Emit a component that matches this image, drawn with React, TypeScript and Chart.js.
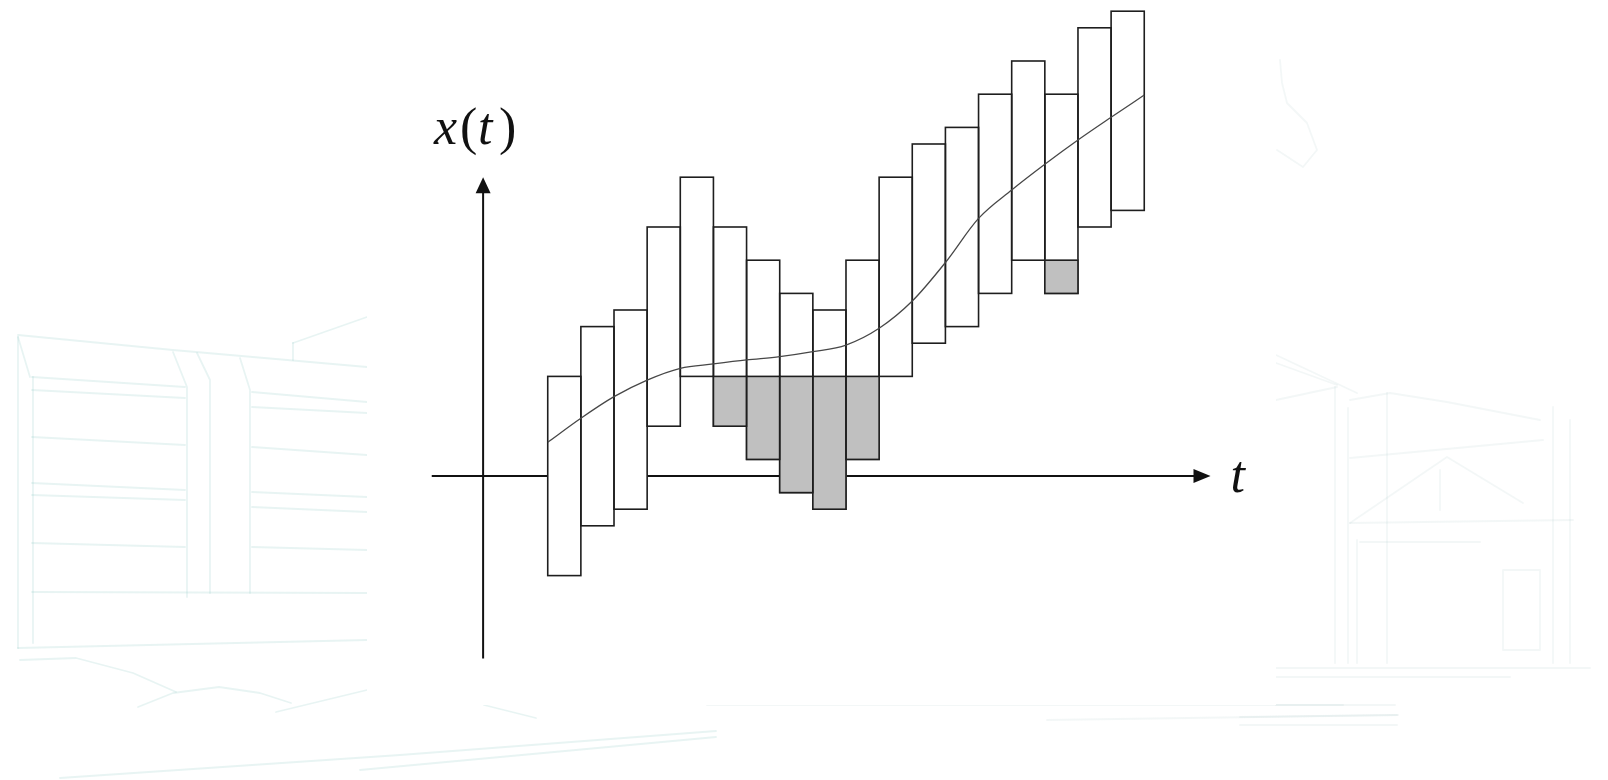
import { useEffect, useRef } from "react";
import { Chart, registerables } from "chart.js";

Chart.register(...registerables);

// Sample index t for each interval (one bar per step).
const steps = [1, 2, 3, 4, 5, 6, 7, 8, 9, 10, 11, 12, 13, 14, 15, 16, 17, 18];

// Interval bounds [lower, upper] of x(t) at each step.
const lowerBound = [-6, -3, -2, 3, 6, 3, 1, -1, -2, 1, 6, 8, 9, 11, 13, 11, 15, 16];
const upperBound = [6, 9, 10, 15, 18, 15, 13, 11, 10, 13, 18, 20, 21, 23, 25, 23, 27, 28];

// Part of an interval lying below the bound already reached (shaded grey).
const shadedLower = [null, null, null, null, null, 3, 1, -1, -2, 1, null, null, null, null, null, 11, null, null];
const shadedUpper = [null, null, null, null, null, 6, 6, 6, 6, 6, null, null, null, null, null, 13, null, null];

// The underlying signal x(t), sampled at the interval edges.
const curveT = [0.5, 1.5, 2.5, 3.5, 4.5, 5.5, 6.5, 7.5, 8.5, 9.5, 10.5, 11.5, 12.5, 13.5, 14.5, 15.5, 16.5, 17.5, 18.5];
const curveX = [2.03, 3.48, 4.78, 5.78, 6.49, 6.75, 6.99, 7.19, 7.49, 7.89, 8.9, 10.54, 12.86, 15.52, 17.23, 18.78, 20.24, 21.61, 22.95];

// Axis extents in data units.
const T_RANGE = [-4, 21];
const X_RANGE = [-12, 28.5];
const T_AXIS = { from: -3, to: 20.5, at: 0 };
const X_AXIS = { from: -11, to: 18, at: -1.45 };

const W = 1608;
const H = 780;

// Faint backdrop sketch (decoration around the white panel), canvas pixels.
const PANEL = { left: 367, top: 0, right: 1276, bottom: 705 };
const sketchLeft: number[][] = [
  [18, 337, 18, 648],
  [33, 377, 33, 643],
  [18, 335, 173, 350, 367, 367],
  [18, 337, 30, 377],
  [293, 343, 367, 317],
  [293, 343, 293, 360],
  [32, 377, 185, 387],
  [32, 390, 185, 398],
  [32, 437, 185, 445],
  [32, 483, 185, 490],
  [32, 495, 185, 500],
  [32, 543, 185, 547],
  [32, 592, 367, 593],
  [252, 392, 367, 402],
  [252, 407, 367, 413],
  [252, 447, 367, 455],
  [252, 492, 367, 497],
  [252, 507, 367, 512],
  [252, 547, 367, 550],
  [173, 352, 187, 387, 187, 597],
  [197, 353, 210, 380, 210, 593],
  [240, 358, 250, 390, 250, 593],
  [18, 648, 367, 640],
  [20, 660, 76, 658, 133, 673, 176, 692],
  [138, 707, 173, 693, 219, 687, 260, 693, 291, 703],
  [276, 712, 367, 690],
  [60, 778, 400, 755, 716, 731],
  [360, 770, 716, 737],
  [484, 705, 536, 718],
];
const sketchRight: number[][] = [
  [707, 705, 1395, 705],
  [1047, 720, 1398, 715],
  [1280, 60, 1282, 83, 1287, 103, 1307, 123, 1317, 150, 1303, 167, 1277, 150],
  [1276, 355, 1357, 393],
  [1276, 363, 1337, 385],
  [1276, 400, 1337, 387],
  [1350, 400, 1390, 393, 1447, 402, 1540, 420],
  [1335, 387, 1335, 663],
  [1348, 408, 1348, 663],
  [1357, 540, 1357, 663],
  [1387, 393, 1387, 663],
  [1553, 407, 1553, 663],
  [1570, 420, 1570, 663],
  [1440, 470, 1440, 510],
  [1350, 458, 1543, 440],
  [1350, 523, 1573, 520],
  [1360, 542, 1480, 542],
  [1350, 523, 1447, 457, 1523, 503],
  [1503, 570, 1540, 570, 1540, 650, 1503, 650, 1503, 570],
  [1276, 668, 1590, 668],
  [1276, 677, 1510, 677],
  [1276, 705, 1343, 705],
  [1240, 717, 1397, 715],
  [1240, 725, 1397, 725],
];

function strokePolylines(ctx: CanvasRenderingContext2D, lines: number[][]) {
  for (const pts of lines) {
    ctx.beginPath();
    ctx.moveTo(pts[0], pts[1]);
    for (let i = 2; i < pts.length; i += 2) ctx.lineTo(pts[i], pts[i + 1]);
    ctx.stroke();
  }
}

const backdropPlugin = {
  id: "backdrop",
  beforeDraw(chart: any) {
    const ctx = chart.ctx as CanvasRenderingContext2D;
    ctx.save();
    ctx.fillStyle = "#ffffff";
    ctx.fillRect(0, 0, W, H);
    ctx.beginPath();
    ctx.rect(0, 0, W, H);
    ctx.rect(PANEL.left, PANEL.top, PANEL.right - PANEL.left, PANEL.bottom - PANEL.top);
    ctx.clip("evenodd");
    ctx.lineJoin = "round";
    ctx.lineCap = "round";
    ctx.lineWidth = 1.8;
    ctx.strokeStyle = "rgba(140, 200, 196, 0.2)";
    strokePolylines(ctx, sketchLeft);
    ctx.strokeStyle = "rgba(160, 195, 195, 0.13)";
    strokePolylines(ctx, sketchRight);
    ctx.restore();
  },
};

// Axes with arrowheads, crossing at the origin, plus the axis names.
const axesPlugin = {
  id: "arrowAxes",
  beforeDatasetsDraw(chart: any) {
    const ctx = chart.ctx as CanvasRenderingContext2D;
    const xs = chart.scales.x;
    const ys = chart.scales.y;
    ctx.save();
    ctx.strokeStyle = "#111";
    ctx.fillStyle = "#111";
    ctx.lineWidth = 2;

    // horizontal (t) axis
    const ty = ys.getPixelForValue(T_AXIS.at);
    const tx0 = xs.getPixelForValue(T_AXIS.from);
    const tx1 = xs.getPixelForValue(T_AXIS.to);
    ctx.beginPath();
    ctx.moveTo(tx0, ty);
    ctx.lineTo(tx1 - 14, ty);
    ctx.stroke();
    ctx.beginPath();
    ctx.moveTo(tx1, ty);
    ctx.lineTo(tx1 - 17, ty - 7);
    ctx.lineTo(tx1 - 17, ty + 7);
    ctx.closePath();
    ctx.fill();

    // vertical (x) axis
    const ax = xs.getPixelForValue(X_AXIS.at);
    const ay0 = ys.getPixelForValue(X_AXIS.from);
    const ay1 = ys.getPixelForValue(X_AXIS.to);
    ctx.beginPath();
    ctx.moveTo(ax, ay0);
    ctx.lineTo(ax, ay1 + 13);
    ctx.stroke();
    ctx.beginPath();
    ctx.moveTo(ax, ay1);
    ctx.lineTo(ax - 7.5, ay1 + 16);
    ctx.lineTo(ax + 7.5, ay1 + 16);
    ctx.closePath();
    ctx.fill();

    // axis names: italic variables, upright parentheses
    const italic = 'italic 52px "Liberation Serif", "DejaVu Serif", serif';
    const upright = '52px "Liberation Serif", "DejaVu Serif", serif';
    ctx.textBaseline = "alphabetic";
    ctx.textAlign = "left";
    const by = ay1 - 33;
    ctx.font = italic;
    ctx.fillText("x", ax - 49, by);
    ctx.font = upright;
    ctx.fillText("(", ax - 23, by);
    ctx.font = italic;
    ctx.fillText("t", ax - 5, by);
    ctx.font = upright;
    ctx.fillText(")", ax + 16, by);
    ctx.font = italic;
    ctx.fillText("t", tx1 + 20, ty + 16);
    ctx.restore();
  },
};

// Bar outlines drawn on the exact bar edges so neighbouring bars share one line.
const outlinePlugin = {
  id: "barOutline",
  afterDatasetDraw(chart: any, args: any) {
    const meta = args.meta;
    if (meta.type !== "bar") return;
    const ctx = chart.ctx as CanvasRenderingContext2D;
    ctx.save();
    ctx.strokeStyle = "#1e1e1e";
    ctx.lineWidth = 1.6;
    for (const el of meta.data) {
      const { x, y, base, width } = el.getProps(["x", "y", "base", "width"], true);
      const h = Math.abs(base - y);
      if (!isFinite(h) || h < 0.5) continue;
      ctx.strokeRect(x - width / 2, Math.min(y, base), width, h);
    }
    ctx.restore();
  },
};

const intervalData = steps.map((t, i) => ({ x: t, y: [lowerBound[i], upperBound[i]] }));
const shadedData = steps
  .map((t, i) => ({ x: t, lo: shadedLower[i], hi: shadedUpper[i] }))
  .filter((d) => d.lo !== null && d.hi !== null)
  .map((d) => ({ x: d.x, y: [d.lo as number, d.hi as number] }));
const curveData = curveT.map((t, i) => ({ x: t, y: curveX[i] }));

export default function App() {
  const canvasRef = useRef<HTMLCanvasElement>(null);

  useEffect(() => {
    document.documentElement.style.margin = "0";
    document.body.style.margin = "0";
    document.body.style.overflow = "hidden";
    const canvas = canvasRef.current;
    if (!canvas) return;

    const chart = new Chart(canvas, {
      type: "bar",
      data: {
        datasets: [
          {
            type: "line",
            label: "x(t)",
            data: curveData as any,
            borderColor: "#474747",
            borderWidth: 1.3,
            pointRadius: 0,
            cubicInterpolationMode: "monotone",
            fill: false,
            order: 0,
            clip: false as any,
          },
          {
            type: "bar",
            label: "shaded",
            data: shadedData as any,
            backgroundColor: "#c0c0c0",
            borderWidth: 0,
            grouped: false,
            barPercentage: 1,
            categoryPercentage: 1,
            order: 1,
            clip: false as any,
          },
          {
            type: "bar",
            label: "interval",
            data: intervalData as any,
            backgroundColor: "#ffffff",
            borderWidth: 0,
            grouped: false,
            barPercentage: 1,
            categoryPercentage: 1,
            order: 2,
            clip: false as any,
          },
        ],
      },
      options: {
        responsive: false,
        animation: false,
        events: [],
        layout: { padding: { left: 398.6, right: 380.9, top: 2.9, bottom: 104.8 } },
        plugins: { legend: { display: false }, tooltip: { enabled: false } },
        scales: {
          x: {
            type: "linear",
            min: T_RANGE[0],
            max: T_RANGE[1],
            offset: false,
            display: false,
            ticks: { stepSize: 1 },
          },
          y: {
            type: "linear",
            min: X_RANGE[0],
            max: X_RANGE[1],
            display: false,
          },
        },
      },
      plugins: [backdropPlugin, axesPlugin, outlinePlugin],
    });

    return () => chart.destroy();
  }, []);

  return (
    <div style={{ width: W, height: H, overflow: "hidden" }}>
      <canvas ref={canvasRef} width={W} height={H} style={{ display: "block", width: W, height: H }} />
    </div>
  );
}
